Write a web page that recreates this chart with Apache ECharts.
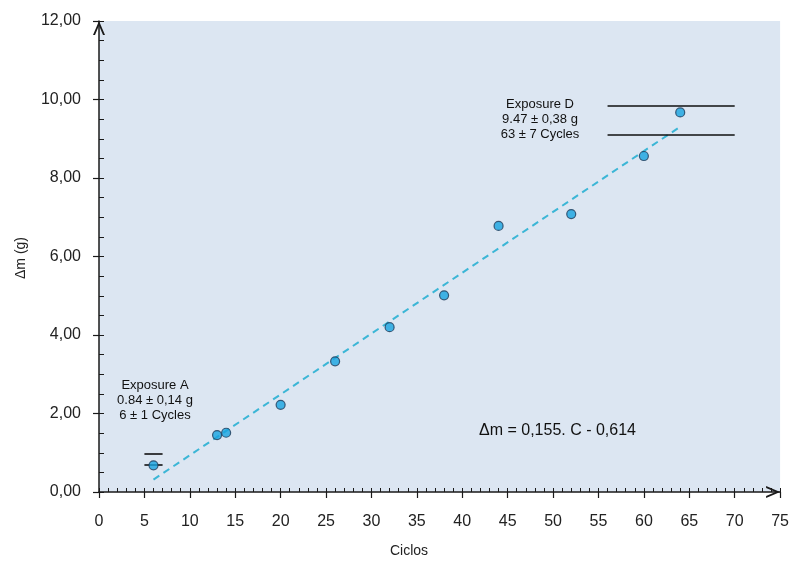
<!DOCTYPE html>
<html><head><meta charset="utf-8">
<script src="https://cdn.jsdelivr.net/npm/echarts@6/dist/echarts.min.js"></script>
<style>html,body{margin:0;padding:0;background:#fff}#c{width:792px;height:561px}</style>
</head><body><div id="c"></div>
<script>
// ---- data ----
const cycles = [6, 13, 14, 20, 26, 32, 38, 44, 52, 60, 64];
const massGain = [0.68, 1.45, 1.51, 2.22, 3.33, 4.20, 5.01, 6.78, 7.08, 8.56, 9.67];
const fitSlope = 0.155;
const fitIntercept = -0.614;
const fitRange = [6, 64];
const exposureA = { mean: 0.84, err: 0.14, cyc: 6, cycErr: 1 };
const exposureD = { mean: 9.47, err: 0.38, cyc: 63, cycErr: 7 };
const xTicks = [0, 75, 5];
const yTicks = [0, 12, 2];

const fmt = v => v.toFixed(2).replace('.', ',');
const fitLine = fitRange.map(c => [c, fitSlope * c + fitIntercept]);
function bandLines(e) {
  const lo = e.mean - e.err, hi = e.mean + e.err;
  const x0 = e.cyc - e.cycErr, x1 = e.cyc + e.cycErr;
  return [[{coord:[x0, lo]}, {coord:[x1, lo]}], [{coord:[x0, hi]}, {coord:[x1, hi]}]];
}
const font = 'Liberation Sans, Arial, sans-serif';
const arrow = 'path://M0,14 L6,0 L12,14 L10,14 L6,4.5 L2,14 Z';

const chart = echarts.init(document.getElementById('c'));
chart.setOption({
  animation: false,
  backgroundColor: '#ffffff',
  grid: { left: 99, right: 10, top: 21, bottom: 69, show: true, backgroundColor: '#dce6f2', borderWidth: 0 },
  xAxis: [{
    type: 'value', min: xTicks[0], max: xTicks[1], interval: xTicks[2], position: 'bottom',
    axisLine: { show: true, lineStyle: { color: '#1a1a1a', width: 1.5 }, symbol: ['none', arrow], symbolSize: [12, 14], symbolOffset: [0, -7] },
    axisTick: { show: true, inside: false, length: 6, lineStyle: { color: '#1a1a1a', width: 1.2 } },
    axisLabel: { color: '#222', fontSize: 16, fontFamily: font, margin: 22 },
    splitLine: { show: false }
  }, {
    type: 'value', min: xTicks[0], max: xTicks[1], interval: 1, position: 'bottom',
    axisLine: { show: false }, axisLabel: { show: false }, splitLine: { show: false },
    axisTick: { show: true, inside: true, length: 4, lineStyle: { color: '#1a1a1a', width: 1 } }
  }],
  yAxis: [{
    type: 'value', min: yTicks[0], max: yTicks[1], interval: yTicks[2], position: 'left',
    axisLine: { show: true, lineStyle: { color: '#1a1a1a', width: 1.5 }, symbol: ['none', arrow], symbolSize: [12, 14], symbolOffset: [0, -7] },
    axisTick: { show: true, inside: false, length: 6, lineStyle: { color: '#1a1a1a', width: 1.2 } },
    axisLabel: { color: '#222', fontSize: 16, fontFamily: font, margin: 18, formatter: fmt },
    splitLine: { show: false }
  }, {
    type: 'value', min: yTicks[0], max: yTicks[1], interval: 0.5, position: 'left',
    axisLine: { show: false }, axisLabel: { show: false }, splitLine: { show: false },
    axisTick: { show: true, inside: true, length: 5, lineStyle: { color: '#1a1a1a', width: 1 } }
  }],
  series: [{
    type: 'line', data: fitLine, showSymbol: false, silent: true, z: 2,
    lineStyle: { color: '#3bb6d6', width: 2, type: [7, 5] }
  }, {
    type: 'line', data: [], silent: true, z: 3,
    markLine: {
      silent: true, symbol: 'none', label: { show: false },
      lineStyle: { color: '#111', width: 1.6, type: 'solid' },
      data: bandLines(exposureA).concat(bandLines(exposureD))
    }
  }, {
    type: 'scatter', data: cycles.map((c, i) => [c, massGain[i]]), symbolSize: 9, z: 5,
    itemStyle: { color: '#18a4e0', borderColor: '#1d3b5a', borderWidth: 1.2 }
  }],
  graphic: [
    { type: 'text', left: 3, top: 240, rotation: Math.PI / 2, style: {} },
    { type: 'text', x: 21, y: 258, rotation: Math.PI / 2, style: { text: 'Δm (g)', fill: '#222', font: '14px ' + font, textAlign: 'center', textVerticalAlign: 'middle' } },
    { type: 'text', x: 409, y: 551, style: { text: 'Ciclos', fill: '#222', font: '14px ' + font, textAlign: 'center', textVerticalAlign: 'middle' } },
    { type: 'text', x: 155, y: 400, style: { text: 'Exposure A\n' + exposureA.mean.toFixed(2) + ' ± ' + exposureA.err.toFixed(2).replace('.', ',') + ' g\n' + exposureA.cyc + ' ± ' + exposureA.cycErr + ' Cycles', fill: '#111', font: '13px ' + font, lineHeight: 15, textAlign: 'center', textVerticalAlign: 'middle' } },
    { type: 'text', x: 540, y: 119, style: { text: 'Exposure D\n' + exposureD.mean.toFixed(2) + ' ± ' + exposureD.err.toFixed(2).replace('.', ',') + ' g\n' + exposureD.cyc + ' ± ' + exposureD.cycErr + ' Cycles', fill: '#111', font: '13px ' + font, lineHeight: 15, textAlign: 'center', textVerticalAlign: 'middle' } },
    { type: 'text', x: 479, y: 431, style: { text: 'Δm = ' + String(fitSlope).replace('.', ',') + '. C - ' + String(-fitIntercept).replace('.', ','), fill: '#111', font: '16px ' + font, textAlign: 'left', textVerticalAlign: 'middle' } }
  ]
});
</script></body></html>
